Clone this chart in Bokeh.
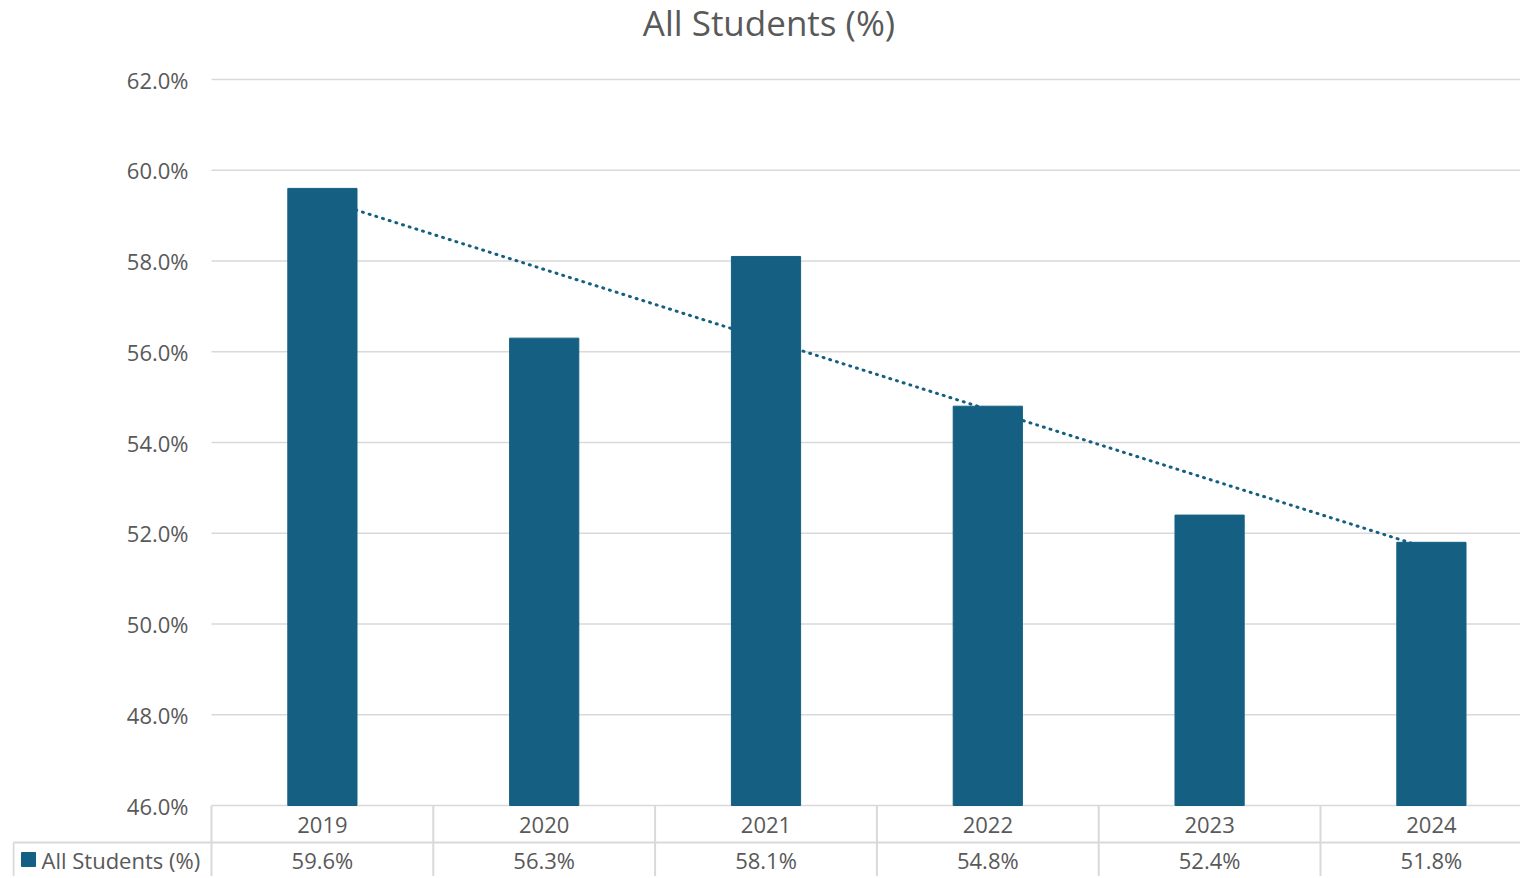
from bokeh.plotting import figure
from bokeh.models import Range1d, FixedTicker, PrintfTickFormatter
from bokeh.embed import file_html
from bokeh.resources import INLINE
from bokeh.core.properties import value
import numpy as np

# ---- data ----
years = ["2019", "2020", "2021", "2022", "2023", "2024"]
values = [59.6, 56.3, 58.1, 54.8, 52.4, 51.8]
y_ticks = [46, 48, 50, 52, 54, 56, 58, 60, 62]
series_name = "All Students (%)"
title_text = "All Students (%)"

# ---- style ----
BAR = "#156082"
TXT = "#595959"
GRID = "#d9d9d9"
FONT = "Open Sans"
SX = 221.8      # px per category
SY = 45.375     # px per percentage point

W, H = 1520, 876
FL = 12                   # frame left in px; frame spans the full height
x0 = (FL - 211) / SX
x1 = (W - 211) / SX
y_top = 62 + 79 / SY
y_bot = 46 - (H - 805) / SY

xs = [i + 0.5 for i in range(len(years))]

p = figure(width=W, height=H, x_range=Range1d(x0, x1), y_range=Range1d(y_bot, y_top),
           output_backend="svg", toolbar_location=None, x_axis_type=None,
           min_border_left=FL, min_border_right=0, min_border_top=0, min_border_bottom=0)

# chart title (top band of the canvas)
p.text(x=[(768.5 - 211) / SX], y=[62 + (79 - 22) / SY], text=[title_text], text_align="center",
       text_baseline="alphabetic", text_font_size="35px", text_color=TXT, text_font=value(FONT))

# horizontal gridlines (start at the plot area, x = 0)
p.segment(x0=[0] * len(y_ticks), y0=y_ticks, x1=[x1] * len(y_ticks), y1=y_ticks,
          line_color=GRID, line_width=1.5)

p.vbar(x=xs, top=values, bottom=46, width=0.312, color=BAR)

# linear trendline
coef = np.polyfit(np.arange(len(values)), values, 1)
trend = [coef[1] + coef[0] * i for i in range(len(values))]
p.line(x=[xs[0], xs[-1]], y=[trend[0], trend[-1]], line_color=BAR, line_width=3,
       line_dash="1 6", line_cap="round")

yax = p.yaxis[0]
yax.ticker = FixedTicker(ticks=y_ticks)
yax.formatter = PrintfTickFormatter(format="%.1f%%")
yax.axis_line_color = None
yax.major_tick_line_color = None
yax.major_tick_out = 0
yax.major_tick_in = 0
yax.minor_tick_line_color = None
yax.major_label_standoff = FL - 188
yax.major_label_text_font_size = "22px"
yax.major_label_text_color = TXT
yax.major_label_text_font = FONT

p.xgrid.grid_line_color = None
p.ygrid.grid_line_color = None
p.outline_line_color = None

# ---- data table ----
row1_y = 46 - 19 / SY
sep_y = 46 - 37 / SY
row2_y = 46 - 54 / SY
cell_left = (13 - 211) / SX
p.segment(x0=[cell_left], y0=[sep_y], x1=[x1], y1=[sep_y], line_color=GRID, line_width=2)
vx = list(range(len(years)))
p.segment(x0=vx, y0=[46] * len(vx), x1=vx, y1=[y_bot] * len(vx), line_color=GRID, line_width=2)
p.segment(x0=[cell_left], y0=[sep_y], x1=[cell_left], y1=[y_bot], line_color=GRID, line_width=2)
p.text(x=xs, y=[row1_y] * len(xs), text=years, text_align="center",
       text_baseline="middle", text_font_size="22px", text_color=TXT, text_font=value(FONT))
p.text(x=xs, y=[row2_y] * len(xs), text=[f"{v:.1f}%" for v in values], text_align="center",
       text_baseline="middle", text_font_size="22px", text_color=TXT, text_font=value(FONT))
p.scatter(x=[(28 - 211) / SX], y=[row2_y], marker="square", size=14, color=BAR)
p.text(x=[(41 - 211) / SX], y=[row2_y], text=[series_name], text_align="left",
       text_baseline="middle", text_font_size="22px", text_color=TXT, text_font=value(FONT))

open("out.html", "w").write(file_html(p, INLINE))
